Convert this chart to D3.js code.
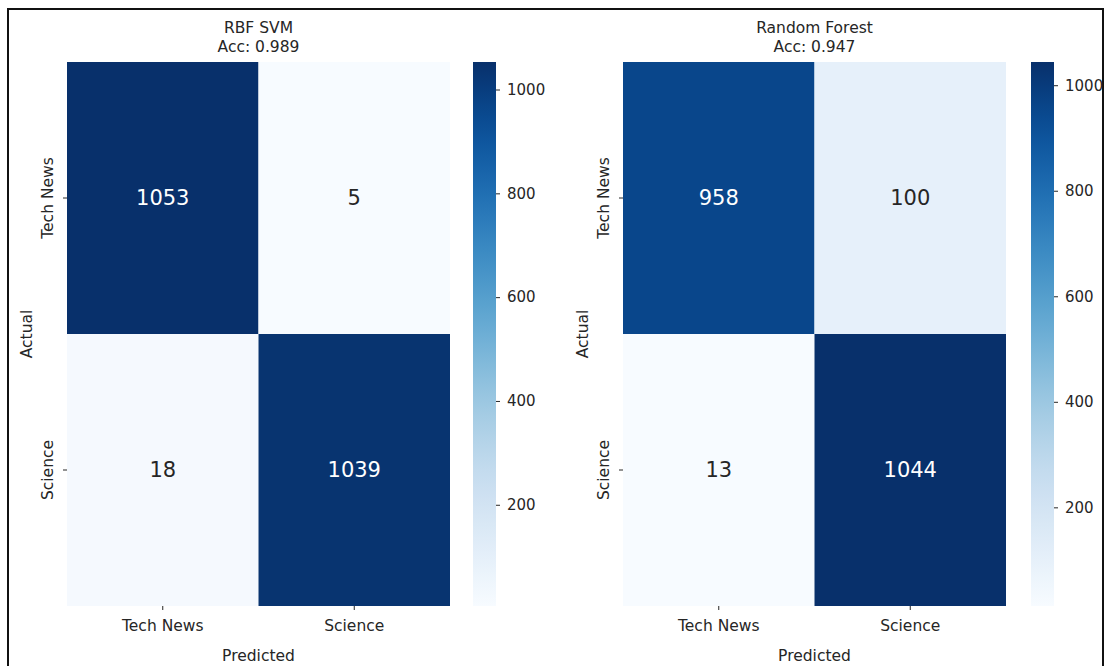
<!DOCTYPE html>
<html>
<head>
<meta charset="utf-8">
<script src="https://cdn.jsdelivr.net/npm/d3@7"></script>
<style>
  html, body { margin: 0; padding: 0; background: #fff; }
  svg { display: block; font-family: "DejaVu Sans", sans-serif; }
</style>
</head>
<body>
<svg id="chart" width="1106" height="666"></svg>
<script>
// Class labels shared by both confusion matrices
const classes = ["Tech News", "Science"];

// Confusion matrices, rows = actual, columns = predicted
const svmMatrix = [[1053, 5], [18, 1039]];
const rfMatrix = [[958, 100], [13, 1044]];

// Panel titles
const modelNames = ["RBF SVM", "Random Forest"];
const accuracies = ["0.989", "0.947"];

// Colorbar ticks
const colorbarTicks = [200, 400, 600, 800, 1000];

const svg = d3.select("#chart");
const textColor = "#262626";

// Outer frame
svg.append("rect")
  .attr("x", 8).attr("y", 9)
  .attr("width", 1095).attr("height", 700)
  .attr("fill", "none").attr("stroke", "#111").attr("stroke-width", 2);

const defs = svg.append("defs");

const panels = [
  { name: modelNames[0], acc: accuracies[0], matrix: svmMatrix, x0: 67, x1: 450, cbx: 473 },
  { name: modelNames[1], acc: accuracies[1], matrix: rfMatrix, x0: 623, x1: 1006, cbx: 1031 }
];
const plotTop = 62, plotBottom = 606, cbw = 23;

panels.forEach((p, pi) => {
  const g = svg.append("g");
  const cells = [];
  p.matrix.forEach((row, i) => row.forEach((v, j) => cells.push({ actual: classes[i], predicted: classes[j], value: v })));
  const vals = cells.map(d => d.value);
  const vmin = d3.min(vals), vmax = d3.max(vals);

  const x = d3.scaleBand().domain(classes).range([p.x0, p.x1]);
  const y = d3.scaleBand().domain(classes).range([plotTop, plotBottom]);
  const color = d3.scaleSequential(d3.interpolateBlues).domain([vmin, vmax]);

  // Heatmap cells
  g.selectAll("rect.cell").data(cells).join("rect")
    .attr("class", "cell")
    .attr("x", d => x(d.predicted))
    .attr("y", d => y(d.actual))
    .attr("width", x.bandwidth())
    .attr("height", y.bandwidth())
    .attr("fill", d => color(d.value));

  // Cell annotations: white on dark cells, dark on light cells
  g.selectAll("text.ann").data(cells).join("text")
    .attr("class", "ann")
    .attr("x", d => x(d.predicted) + x.bandwidth() / 2)
    .attr("y", d => y(d.actual) + y.bandwidth() / 2)
    .attr("text-anchor", "middle")
    .attr("dominant-baseline", "central")
    .attr("font-size", 21)
    .attr("fill", d => d3.hsl(color(d.value)).l < 0.55 ? "#ffffff" : textColor)
    .text(d => d.value);

  // X axis
  const xAxis = g.append("g")
    .attr("transform", `translate(0,${plotBottom})`)
    .call(d3.axisBottom(x).tickSize(4).tickPadding(10));
  xAxis.select(".domain").remove();
  xAxis.selectAll("line").attr("stroke", textColor);
  xAxis.selectAll("text").attr("font-size", 15.5).attr("fill", textColor)
    .attr("font-family", "DejaVu Sans, sans-serif");

  // Y axis with vertical tick labels
  const yAxis = g.append("g")
    .attr("transform", `translate(${p.x0},0)`)
    .call(d3.axisLeft(y).tickSize(4).tickPadding(6));
  yAxis.select(".domain").remove();
  yAxis.selectAll("line").attr("stroke", textColor);
  yAxis.selectAll("text")
    .attr("font-size", 15.5).attr("fill", textColor)
    .attr("font-family", "DejaVu Sans, sans-serif")
    .attr("text-anchor", "middle")
    .attr("dy", null)
    .attr("x", 0).attr("y", 0)
    .attr("transform", "translate(-14,0) rotate(-90)");

  // Axis titles
  const cx = (p.x0 + p.x1) / 2;
  g.append("text").attr("x", cx).attr("y", 661)
    .attr("text-anchor", "middle").attr("font-size", 15.5).attr("fill", textColor)
    .text("Predicted");
  g.append("text")
    .attr("transform", `translate(${p.x0 - 35},${(plotTop + plotBottom) / 2}) rotate(-90)`)
    .attr("text-anchor", "middle").attr("font-size", 15.5).attr("fill", textColor)
    .text("Actual");

  // Title
  g.append("text").attr("x", cx).attr("y", 33)
    .attr("text-anchor", "middle").attr("font-size", 15.5).attr("fill", textColor)
    .text(p.name);
  g.append("text").attr("x", cx).attr("y", 52)
    .attr("text-anchor", "middle").attr("font-size", 15.5).attr("fill", textColor)
    .text("Acc: " + p.acc);

  // Colorbar
  const gradId = "blues-grad-" + pi;
  const grad = defs.append("linearGradient").attr("id", gradId)
    .attr("x1", 0).attr("y1", 1).attr("x2", 0).attr("y2", 0);
  d3.range(0, 1.0001, 0.05).forEach(t => {
    grad.append("stop").attr("offset", t).attr("stop-color", d3.interpolateBlues(t));
  });
  const cbScale = d3.scaleLinear().domain([vmin, vmax]).range([plotBottom, plotTop]);
  g.append("rect")
    .attr("x", p.cbx).attr("y", plotTop)
    .attr("width", cbw).attr("height", plotBottom - plotTop)
    .attr("fill", `url(#${gradId})`);
  const cbAxis = g.append("g")
    .attr("transform", `translate(${p.cbx + cbw},0)`)
    .call(d3.axisRight(cbScale).tickValues(colorbarTicks).tickFormat(d3.format("d")).tickSize(4).tickPadding(7));
  cbAxis.select(".domain").remove();
  cbAxis.selectAll("line").attr("stroke", textColor);
  cbAxis.selectAll("text").attr("font-size", 15).attr("fill", textColor)
    .attr("font-family", "DejaVu Sans, sans-serif");
});
</script>
</body>
</html>
